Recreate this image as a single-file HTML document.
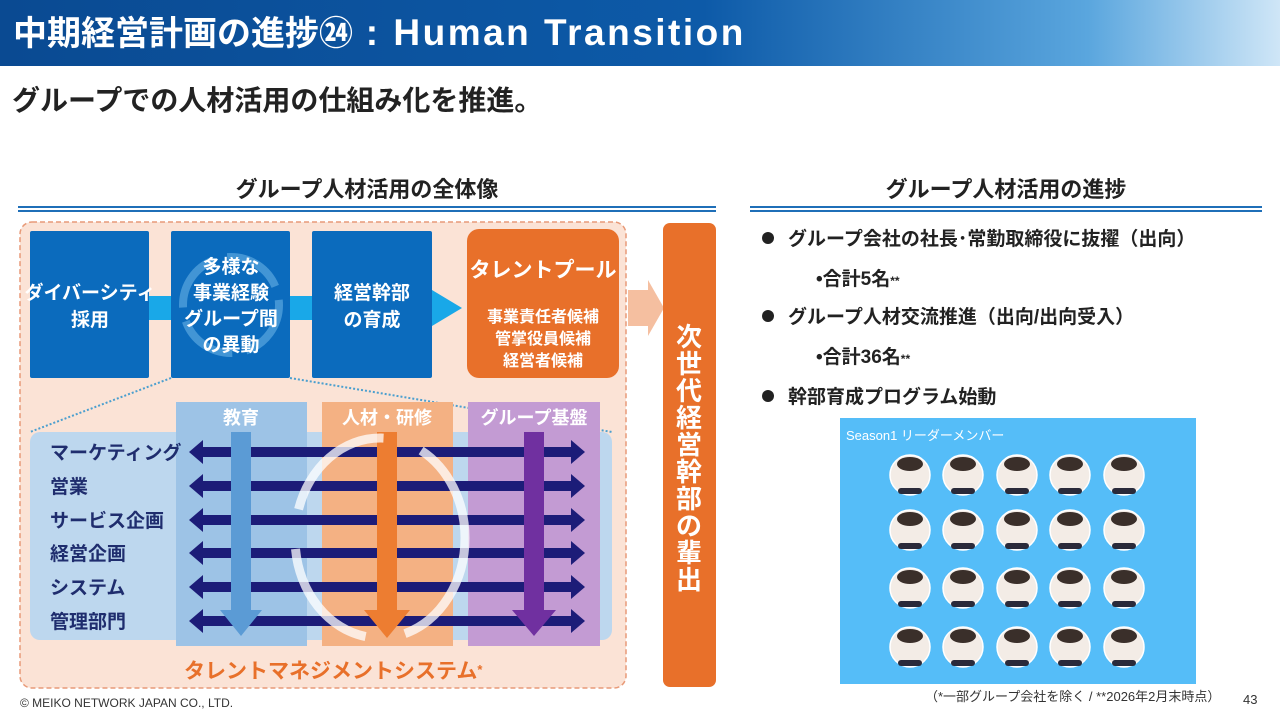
<!DOCTYPE html>
<html><head><meta charset="utf-8"><style>
*{margin:0;padding:0;box-sizing:border-box}
body{width:1280px;height:720px;position:relative;background:#fff;font-family:"Liberation Sans","Noto Sans CJK JP",sans-serif;overflow:hidden}
.a{position:absolute;white-space:nowrap}
</style></head><body>
<div class="a" style="left:0;top:0;width:1280px;height:66px;background:linear-gradient(90deg,#0a4a92 0%,#0d5aa8 55%,#5aa6de 85%,#cfe6f7 100%)"></div>
<div class="a" style="left:13px;top:12px;font-size:34px;font-weight:bold;color:#fff;line-height:42px">中期経営計画の進捗㉔<span style="font-size:37px;letter-spacing:2.5px"> : Human Transition</span></div>
<div class="a" style="left:12px;top:82px;font-size:28px;font-weight:bold;color:#222;line-height:38px">グループでの人材活用の仕組み化を推進。</div>
<div class="a" style="left:18px;top:172px;width:698px;text-align:center;font-size:22px;font-weight:bold;color:#222">グループ人材活用の全体像</div>
<div class="a" style="left:18px;top:206px;width:698px;height:6px;border-top:2px solid #1f6fb8;border-bottom:2px solid #1f6fb8"></div>
<div class="a" style="left:750px;top:172px;width:512px;text-align:center;font-size:22px;font-weight:bold;color:#222">グループ人材活用の進捗</div>
<div class="a" style="left:750px;top:206px;width:512px;height:6px;border-top:2px solid #1f6fb8;border-bottom:2px solid #1f6fb8"></div>

<svg class="a" style="left:0;top:0" width="1280" height="720" font-family="Liberation Sans, Noto Sans CJK JP, sans-serif" font-weight="bold">
<rect x="20" y="222" width="606" height="466" rx="12" fill="#fbe3d6" stroke="#e89a78" stroke-dasharray="5,3" stroke-width="1.5"/>
<rect x="140" y="296" width="300" height="24" fill="#19a8e8"/>
<polygon points="432,290 462,308 432,326" fill="#19a8e8"/>
<rect x="30" y="231" width="119" height="147" rx="2" fill="#0b6bbd"/>
<rect x="171" y="231" width="119" height="147" rx="2" fill="#0b6bbd"/>
<rect x="312" y="231" width="120" height="147" rx="2" fill="#0b6bbd"/>
<circle cx="231" cy="305" r="48" fill="none" stroke="#5aa6e0" stroke-width="8" stroke-dasharray="60,14" opacity="0.7"/>
<rect x="467" y="229" width="152" height="149" rx="12" fill="#e8702a"/>
<polygon points="628,290 648,290 648,280 664,308 648,336 648,326 628,326" fill="#f5bfa0"/>
<rect x="663" y="223" width="53" height="464" rx="7" fill="#e8702a"/>
<g fill="#fff" font-size="19" text-anchor="middle">
<text x="90" y="299">ダイバーシティ</text><text x="90" y="326">採用</text>
<text x="231" y="273">多様な</text><text x="231" y="299">事業経験</text><text x="231" y="325">グループ間</text><text x="231" y="351">の異動</text>
<text x="372" y="299">経営幹部</text><text x="372" y="326">の育成</text>
<text x="543" y="277" font-size="21">タレントプール</text>
<text x="543" y="322" font-size="16">事業責任者候補</text><text x="543" y="344" font-size="16">管掌役員候補</text><text x="543" y="366" font-size="16">経営者候補</text>
</g>
<g fill="#fff" font-size="26" text-anchor="middle">
<text x="689" y="346">次</text><text x="689" y="373">世</text><text x="689" y="400">代</text><text x="689" y="427">経</text><text x="689" y="454">営</text><text x="689" y="481">幹</text><text x="689" y="508">部</text><text x="689" y="535">の</text><text x="689" y="562">輩</text><text x="689" y="589">出</text>
</g>
<line x1="171" y1="378" x2="30" y2="432" stroke="#4a9fcf" stroke-width="2" stroke-dasharray="2,2"/>
<line x1="290" y1="378" x2="612" y2="432" stroke="#4a9fcf" stroke-width="2" stroke-dasharray="2,2"/>
<rect x="30" y="432" width="582" height="208" rx="10" fill="#bdd7ee"/>
<rect x="176" y="402" width="131" height="244" fill="#9dc3e6"/>
<rect x="322" y="402" width="131" height="244" fill="#f4b183"/>
<rect x="468" y="402" width="132" height="244" fill="#c39bd3"/>
<g fill="#fff" font-size="18" text-anchor="middle"><text x="241" y="424">教育</text><text x="387" y="424">人材・研修</text><text x="534" y="424">グループ基盤</text></g>
<g fill="#1c1c78">
<g id="h"><rect x="200" y="447" width="374" height="10"/><polygon points="189,452 203,440 203,464"/><polygon points="585,452 571,440 571,464"/></g>
<use href="#h" y="34"/><use href="#h" y="68"/><use href="#h" y="101"/><use href="#h" y="135"/><use href="#h" y="169"/>
</g>
<rect x="231" y="432" width="20" height="180" fill="#5b9bd5"/><polygon points="220,610 262,610 241,636" fill="#5b9bd5"/>
<rect x="377" y="432" width="20" height="180" fill="#ed7d31"/><polygon points="364,610 410,610 387,638" fill="#ed7d31"/>
<rect x="524" y="432" width="20" height="180" fill="#7030a0"/><polygon points="512,610 556,610 534,636" fill="#7030a0"/>
<ellipse cx="380" cy="538" rx="85" ry="100" fill="none" stroke="#fff" stroke-width="9" stroke-dasharray="120,40" opacity="0.75"/>
<g font-size="19" fill="#1f2d6e"><text x="50" y="459">マーケティング</text><text x="50" y="493">営業</text><text x="50" y="527">サービス企画</text><text x="50" y="560">経営企画</text><text x="50" y="594">システム</text><text x="50" y="628">管理部門</text></g>
<text x="184" y="678" font-size="21" fill="#e8702a">タレントマネジメントシステム<tspan font-size="13" dy="-4">*</tspan></text>
<g fill="#222" font-size="19"><circle cx="768" cy="238" r="6"/><text x="788" y="245">グループ会社の社長･常勤取締役に抜擢（出向）</text>
<text x="816" y="285">•合計5名<tspan font-size="12">**</tspan></text>
<circle cx="768" cy="316" r="6"/><text x="788" y="323">グループ人材交流推進（出向/出向受入）</text>
<text x="816" y="363">•合計36名<tspan font-size="12">**</tspan></text>
<circle cx="768" cy="396" r="6"/><text x="788" y="403">幹部育成プログラム始動</text></g>
<rect x="840" y="418" width="356" height="266" fill="#55bdf8"/>
<text x="846" y="440" font-size="13" font-weight="normal" fill="#fff">Season1 リーダーメンバー</text>
<g fill="#f3ece6" stroke="#fff" stroke-width="1.5">
<g id="r"><circle cx="910" cy="475" r="20"/><circle cx="963" cy="475" r="20"/><circle cx="1017" cy="475" r="20"/><circle cx="1070" cy="475" r="20"/><circle cx="1124" cy="475" r="20"/></g>
<use href="#r" y="55"/><use href="#r" y="113"/><use href="#r" y="172"/>
</g>
<g fill="#3a2f2a"><g id="hd"><ellipse cx="910" cy="464" rx="13" ry="7"/><ellipse cx="963" cy="464" rx="13" ry="7"/><ellipse cx="1017" cy="464" rx="13" ry="7"/><ellipse cx="1070" cy="464" rx="13" ry="7"/><ellipse cx="1124" cy="464" rx="13" ry="7"/></g>
<use href="#hd" y="55"/><use href="#hd" y="113"/><use href="#hd" y="172"/></g>
<g fill="#2a2a3a"><g id="bd"><rect x="898" y="488" width="24" height="6" rx="3"/><rect x="951" y="488" width="24" height="6" rx="3"/><rect x="1005" y="488" width="24" height="6" rx="3"/><rect x="1058" y="488" width="24" height="6" rx="3"/><rect x="1112" y="488" width="24" height="6" rx="3"/></g>
<use href="#bd" y="55"/><use href="#bd" y="113"/><use href="#bd" y="172"/></g>
</svg>
<div class="a" style="left:20px;top:696px;font-size:12px;color:#333">© MEIKO NETWORK JAPAN CO., LTD.</div>
<div class="a" style="left:925px;top:686px;font-size:13px;color:#333">（*一部グループ会社を除く / **2026年2月末時点）</div>
<div class="a" style="left:1243px;top:692px;font-size:13px;color:#333">43</div>
</body></html>
